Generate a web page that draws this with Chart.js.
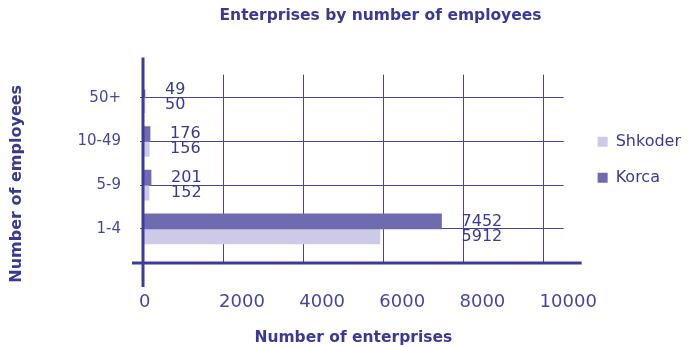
<!DOCTYPE html>
<html>
<head>
<meta charset="utf-8">
<title>Enterprises by number of employees</title>
<script src="https://cdn.jsdelivr.net/npm/chart.js@4.4.1/dist/chart.umd.min.js"></script>
<style>
  html, body { margin: 0; padding: 0; background: #fff; }
  #wrap { width: 688px; height: 347px; }
</style>
</head>
<body>
<div id="wrap"><canvas id="chart"></canvas></div>
<script>
const employeeBands = ['50+', '10-49', '5-9', '1-4'];
const korca = [49, 176, 201, 7452];
const shkoder = [50, 156, 152, 5912];
const xTickValues = [0, 2000, 4000, 6000, 8000, 10000];

const PURPLE = '#706ab0';
const LAVENDER = '#cccae6';
const INK = '#3a3994';
const TICK = '#4847a0';
const GRID = '#4443a2';
const AXIS = '#3d3c99';

Chart.defaults.font.family = '"DejaVu Sans", sans-serif';

// the source figure sits a bit off Chart.js' default layout, nudge the blocks
const nudge = {
  id: 'nudge',
  afterLayout(chart) {
    const t = chart.titleBlock;
    t.left += 42; t.right += 42;
    const lg = chart.legend;
    lg.left += 14; lg.right += 14; lg.top -= 9; lg.bottom -= 9;
    const y = chart.scales.y;
    y.top += 15; y.bottom += 15;
  }
};

// value labels + the crossing axis lines
const decorations = {
  id: 'decorations',
  afterDatasetsDraw(chart) {
    const { ctx, chartArea: a, scales: { x } } = chart;
    const series = [korca, shkoder];
    const metas = series.map((_, d) => chart.getDatasetMeta(d));
    ctx.save();
    ctx.font = '16px "DejaVu Sans"';
    ctx.fillStyle = INK;
    ctx.textBaseline = 'middle';
    ctx.textAlign = 'left';
    employeeBands.forEach((_, i) => {
      const bars = metas.map(m => m.data[i]);
      const lx = Math.max(...bars.map(b => b.x)) + 20;
      bars.forEach((b, d) => ctx.fillText(series[d][i], lx, b.y));
    });
    const x0 = x.getPixelForValue(0);
    ctx.strokeStyle = AXIS;
    ctx.lineWidth = 3;
    ctx.beginPath();
    ctx.moveTo(x0, a.top - 17); ctx.lineTo(x0, a.bottom + 24);
    ctx.moveTo(a.left - 11, a.bottom); ctx.lineTo(a.right + 18, a.bottom);
    ctx.stroke();
    ctx.restore();
  }
};

new Chart(document.getElementById('chart'), {
  type: 'bar',
  data: {
    datasets: [
      { label: 'Korca', data: korca.map((v, i) => ({ x: v, y: i })), backgroundColor: PURPLE },
      { label: 'Shkoder', data: shkoder.map((v, i) => ({ x: v, y: i })), backgroundColor: LAVENDER }
    ]
  },
  options: {
    indexAxis: 'y',
    responsive: true,
    maintainAspectRatio: false,
    animation: false,
    layout: { padding: { right: 11 } },
    datasets: { bar: { barThickness: 15, borderWidth: 0 } },
    plugins: {
      title: {
        display: true, text: 'Enterprises by number of employees', color: INK,
        font: { size: 15.5, weight: 'bold' }, padding: { top: 7, bottom: 49 }
      },
      legend: {
        position: 'right', reverse: true, fullSize: false,
        labels: { boxWidth: 10, boxHeight: 10, padding: 20, color: INK, font: { size: 16 } }
      },
      tooltip: { enabled: false }
    },
    scales: {
      x: {
        type: 'linear', min: 0, max: 10500,
        afterBuildTicks: s => { s.ticks = xTickValues.map(v => ({ value: v })); },
        afterFit: s => { s.height = 84; },
        grid: { color: GRID, lineWidth: 1, drawTicks: false },
        border: { display: false },
        ticks: {
          align: 'start', labelOffset: -4, padding: 29, color: TICK, font: { size: 18 },
          callback: v => String(v)
        },
        title: {
          display: true, text: 'Number of enterprises', color: INK,
          font: { size: 15.5, weight: 'bold' }, padding: { top: 0, bottom: 0 }
        }
      },
      y: {
        type: 'linear', reverse: true, min: -0.53, max: 3.78, offset: false,
        afterBuildTicks: s => { s.ticks = employeeBands.map((_, i) => ({ value: i })); },
        afterFit: s => { s.width = 143; },
        grid: { color: GRID, lineWidth: 1, tickLength: 3, offset: false },
        border: { display: false },
        ticks: { padding: 19, color: TICK, font: { size: 15 }, callback: v => employeeBands[v] },
        title: {
          display: true, text: 'Number of employees', color: INK,
          font: { size: 16, weight: 'bold' }, padding: { top: 7, bottom: 0 }
        }
      }
    }
  },
  plugins: [nudge, decorations]
});
</script>
</body>
</html>
